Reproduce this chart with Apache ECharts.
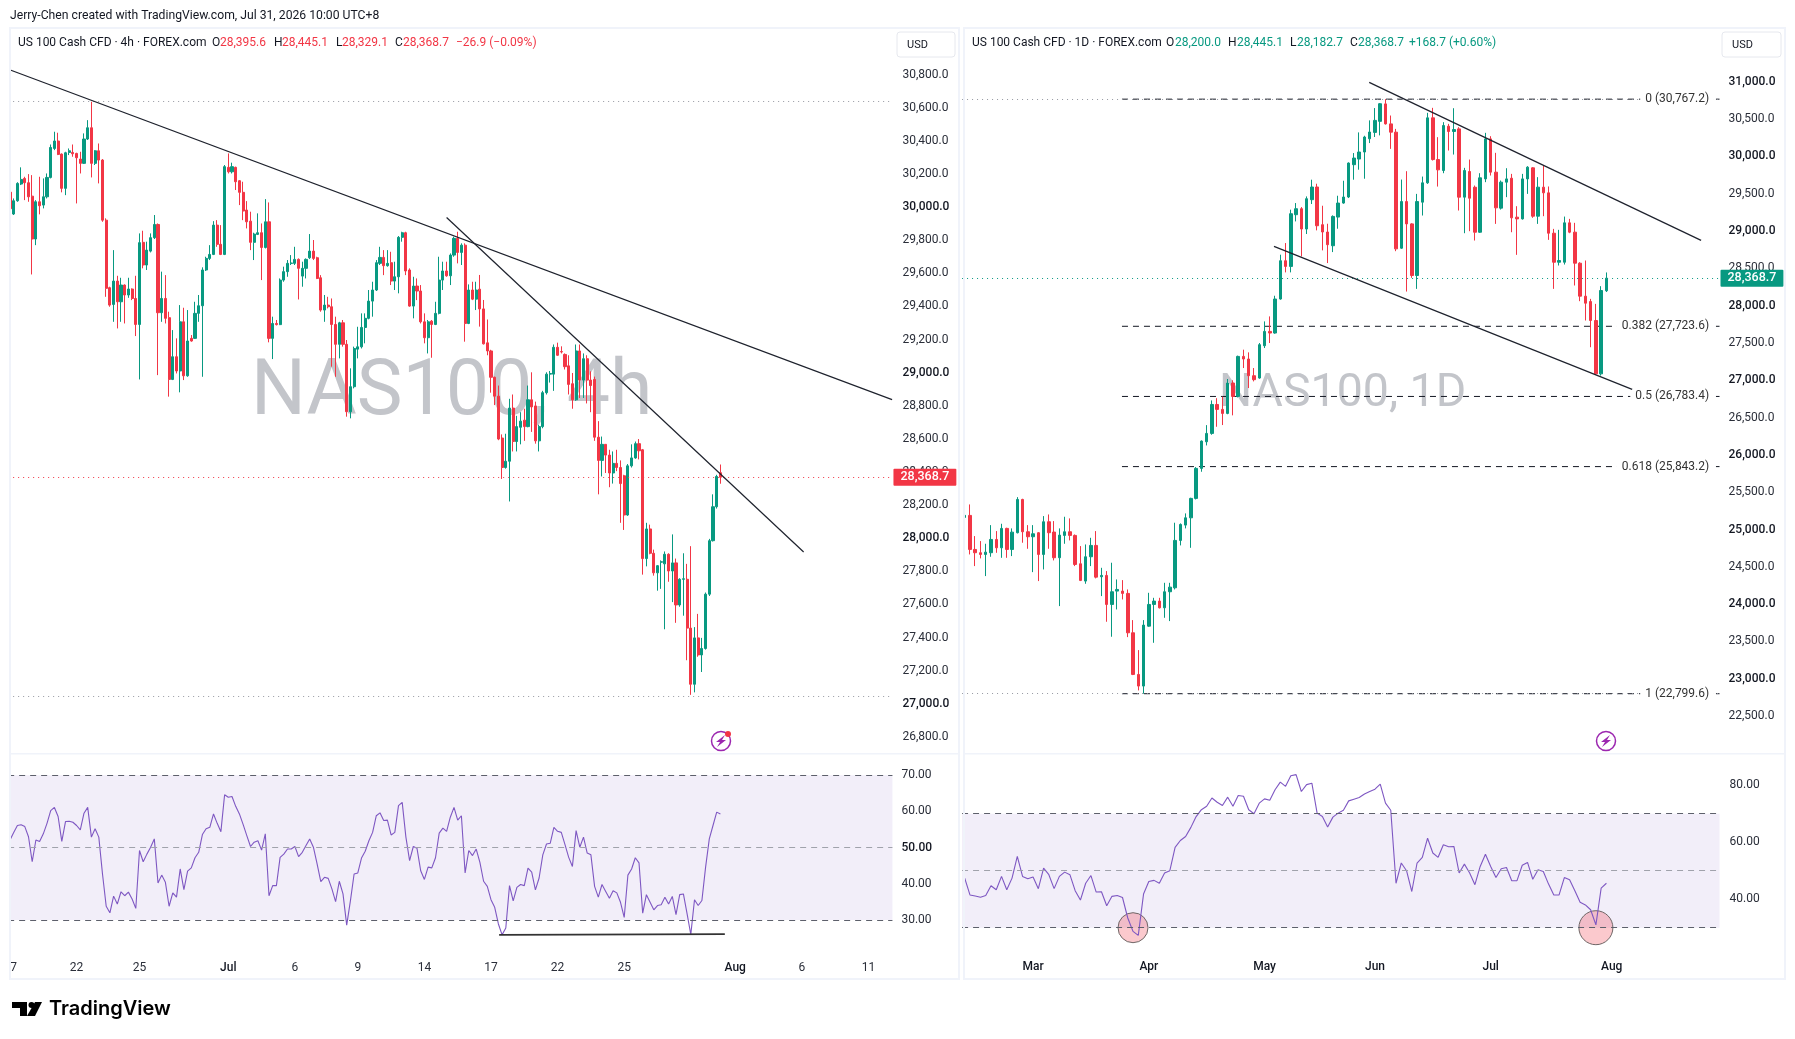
<!DOCTYPE html>
<html>
<head>
<meta charset="utf-8">
<title>NAS100</title>
<script src="https://cdn.jsdelivr.net/npm/echarts@6/dist/echarts.min.js"></script>
<style>html,body{margin:0;padding:0;background:#fff}#c{width:1795px;height:1039px}</style>
</head>
<body>
<div id="c"></div>
<script>
// ---- 4h candles, rows are open, close, high, low
const left4hBars = [
[30090,29990,30160,29950],[29958,30038,30052,29952],[30038,30143,30150,30032],[30139,30167,30240,30133],[30173,30147,30183,30042],
[30147,30062,30199,30032],[30066,29807,30193,29593],[29807,30032,30042,29770],[30032,30008,30183,29956],[30012,30062,30173,29992],
[30062,30179,30203,30052],[30179,30360,30378,30173],[30354,30399,30455,30344],[30399,30318,30449,30314],[30320,30113,30324,30089],
[30113,30328,30334,30072],[30330,30340,30354,30314],[30330,30322,30378,30304],[30324,30298,30328,30022],[30290,30264,30334,30203],
[30264,30411,30445,30260],[30411,30479,30525,30405],[30479,30264,30636,30179],[30264,30340,30344,30254],[30340,30284,30384,30143],
[30284,29921,30290,29911],[29921,29509,29932,29458],[29513,29408,29519,29398],[29412,29553,29740,29307],[29553,29428,29585,29267],
[29428,29529,29573,29307],[29529,29469,29533,29297],[29469,29505,29573,29452],[29505,29448,29509,29438],[29448,29291,29585,29221],
[29291,29785,29841,28959],[29787,29650,29857,29630],[29650,29740,29791,29620],[29734,29815,29841,29726],[29815,29895,29952,29807],
[29895,29362,29901,28985],[29362,29448,29610,29307],[29448,29328,29589,29297],[29332,28959,29368,28855],[28959,29096,29257,28955],
[29096,29010,29207,28995],[29010,29307,29408,28881],[29307,28981,29392,28955],[28981,29191,29378,28975],[29207,29191,29227,29187],
[29207,29358,29428,29203],[29358,29404,29469,29307],[29404,29620,29636,28975],[29620,29690,29700,29614],[29690,29714,29770,29680],
[29714,29891,29915,29710],[29891,29775,29921,29760],[29775,29714,29891,29710],[29714,30244,30254,29710],[30240,30213,30324,30203],
[30213,30244,30268,30203],[30240,30153,30244,30103],[30159,30089,30163,30012],[30089,29976,30153,29921],[29982,29911,30036,29871],
[29915,29787,29972,29740],[29787,29837,29845,29680],[29835,29845,29962,29831],[29845,29756,29901,29559],[29756,29911,30048,29750],
[29911,29207,30028,29183],[29207,29297,29338,29082],[29297,29290,29318,29285],[29290,29559,29569,29287],[29559,29610,29640,29549],
[29610,29660,29680,29579],[29660,29662,29710,29650],[29660,29684,29760,29650],[29684,29630,29690,29442],[29583,29630,29670,29519],
[29630,29684,29690,29569],[29694,29734,29837,29686],[29734,29690,29801,29680],[29694,29569,29700,29565],[29573,29378,29589,29368],
[29378,29408,29469,29307],[29408,29398,29458,29388],[29398,29291,29448,29036],[29291,29171,29338,28975],[29171,29301,29307,29086],
[29301,29171,29318,29157],[29171,28764,29197,28734],[28764,28915,29026,28724],[28915,29146,29157,28905],[29142,29156,29277,29086],
[29156,29273,29358,29146],[29273,29328,29358,29177],[29328,29432,29499,29322],[29432,29499,29549,29338],[29499,29664,29680,29493],
[29660,29696,29760,29650],[29696,29646,29740,29589],[29646,29660,29740,29640],[29664,29553,29730,29529],[29553,29579,29670,29499],
[29579,29817,29825,29479],[29817,29845,29851,29791],[29845,29614,29851,29589],[29620,29402,29630,29398],[29402,29523,29579,29328],
[29523,29493,29569,29438],[29493,29307,29529,29297],[29307,29211,29358,29177],[29211,29307,29318,29116],[29311,29291,29318,29090],
[29291,29358,29428,29287],[29358,29559,29700,29352],[29559,29614,29670,29499],[29614,29585,29670,29579],[29585,29710,29720,29529],
[29710,29811,29821,29700],[29811,29726,29851,29660],[29726,29770,29781,29650],[29770,29297,29781,29187],[29297,29499,29533,29293],
[29499,29444,29549,29438],[29444,29499,29549,29378],[29504,29385,29590,29278],[29385,29174,29439,29170],[29180,29131,29321,29105],
[29131,28972,29138,28879],[28972,28858,28976,28804],[28858,28599,28922,28592],[28605,28427,28627,28358],[28427,28465,28631,28420],
[28465,28786,28842,28222],[28786,28584,28868,28524],[28584,28674,28739,28524],[28670,28707,28761,28567],[28713,28674,28782,28588],
[28674,28836,28922,28670],[28836,28793,29002,28642],[28799,28588,28825,28571],[28588,28674,28685,28524],[28674,28879,28890,28664],
[28879,28991,29002,28868],[28991,28995,29010,28940],[28991,29153,29170,28890],[29153,29105,29181,29101],[29127,29125,29159,29116],
[29110,29036,29116,29019],[29041,28929,29105,28868],[28933,28836,28998,28782],[28836,29131,29170,28830],[29131,28955,29170,28847],
[28955,29084,29116,28847],[29084,28955,29105,28814],[28955,28922,29008,28761],[28959,28610,28976,28588],[28610,28470,28707,28265],
[28470,28567,28614,28373],[28567,28502,28567,28394],[28502,28394,28534,28308],[28394,28452,28524,28330],[28452,28427,28534,28405],
[28427,28330,28470,28093],[28377,28140,28383,28050],[28140,28437,28448,28135],[28437,28485,28567,28427],[28485,28571,28584,28480],
[28571,28528,28599,28476],[28534,27877,28539,27780],[27877,28056,28093,27830],[28056,27909,28082,27903],[27909,27791,27931,27774],
[27791,27834,27838,27683],[27855,27858,27866,27694],[27845,27903,27920,27450],[27903,27802,27909,27737],[27802,27851,28023,27614],
[27851,27597,27877,27489],[27597,27752,27758,27586],[27752,27755,27909,27532],[27752,27457,27845,27263],[27457,27118,27952,27054],
[27118,27398,27463,27069],[27398,27295,27543,27284],[27295,27334,27398,27192],[27334,27662,27672,27327],[27662,27985,27996,27651],
[27985,28190,28265,27980],[28190,28373,28383,28179],[28395.6,28368.7,28445.1,28329.1]
];
// ---- daily candles, rows are open, close, high, low
const right1dBars = [
[25162,25190,25381,25001],[25189,24733,25336,24666],[24733,24689,24912,24510],[24689,24666,24845,24613],[24666,24697,24809,24376],
[24689,24867,25059,24635],[24867,24755,24979,24688],[24755,25015,25077,24621],[25015,24733,25024,24621],[24733,24965,25015,24644],
[24957,25403,25434,24948],[25403,24970,25412,24823],[24970,24903,25059,24742],[24903,24943,25059,24429],[24957,24666,24966,24309],
[24666,25104,25180,24465],[25104,24957,25202,24742],[24966,24622,25113,24586],[24622,24925,25015,23974],[24921,24970,25171,24809],
[24970,24921,25149,24854],[24921,24532,24934,24510],[24541,24318,24778,24309],[24309,24635,24800,24273],[24635,24787,24889,24510],
[24787,24362,24979,24345],[24367,24385,24487,24108],[24385,23996,24443,23764],[23996,24166,24555,23563],[24175,24197,24331,23929],
[24175,24144,24322,24063],[24144,23616,24197,23558],[23616,23058,23786,23049],[23058,22902,23384,22844],[22902,23719,23786,22799.6],
[23705,23996,24152,23697],[23996,24041,24085,23482],[24041,23951,24085,23942],[23951,24166,24286,23817],[24166,24228,24286,23773],
[24219,24854,25091,24197],[24854,25068,25082,24787],[25059,25157,25216,25015],[25157,25417,25426,24755],[25417,25819,25837,25403],
[25819,26185,26194,25774],[26176,26288,26399,26127],[26288,26676,26730,26270],[26676,26610,26760,26377],[26610,26556,26780,26400],
[26556,26963,27017,26545],[26963,26784,27000,26530],[26784,27320,27330,26770],[27320,27285,27410,27164],[27285,27061,27374,26896],
[27061,27008,27164,26985],[27030,27477,27499,27021],[27463,27655,27789,27432],[27655,27633,27856,27499],[27633,28089,28133,27624],
[28089,28602,28683,28080],[28602,28526,28839,28446],[28526,29232,29286,28446],[29219,29299,29375,29129],[29299,29027,29321,28660],
[29027,29433,29464,28960],[29420,29590,29688,29362],[29590,29071,29634,29009],[29085,28987,29339,28741],[28987,28817,29098,28571],
[28803,29196,29210,28718],[29187,29375,29473,29031],[29375,29456,29674,29366],[29456,29911,29920,29442],[29889,29978,30045,29688],
[29965,30059,30322,29822],[30059,30260,30277,29701],[30237,30327,30483,30179],[30322,30483,30648,30260],[30470,30706,30715,30282],
[30704,30436,30767.2,30427],[30436,30325,30548,30101],[30325,28761,30369,28730],[28770,29395,29690,28761],[29395,29096,29802,28189],
[29096,28404,29105,28373],[28404,29395,29498,28225],[29387,29646,29730,29208],[29646,30517,30584,29632],[30517,29958,30651,29945],
[29958,29820,30258,29596],[29811,30414,30459,29775],[30405,30334,30436,30079],[30334,30360,30646,30025],[30369,29454,30392,29275],
[29454,29811,29847,28971],[29798,29440,29958,28998],[29587,28984,29610,28873],[28984,29713,29775,28975],[29699,30235,30316,29655],
[30235,29789,30271,29744],[29789,29311,30048,29096],[29307,29655,29677,29288],[29655,29699,29842,29454],[29708,29177,29766,28984],
[29186,29163,29333,28681],[29163,29699,29766,29154],[29699,29856,29869,29498],[29847,29199,29856,29177],[29199,29588,29722,29096],
[29588,29512,29878,29199],[29512,28971,29597,28882],[28971,28582,29029,28225],[28582,28605,29016,28538],[28582,29110,29194,28551],
[29110,28985,29163,28971],[28985,28569,29110,28270],[28569,28127,28582,28060],[28127,28033,28605,27801],[28055,27801,28091,27443],
[27801,27086,28024,27072],[27086,28203,28261,27063],[28200,28368.7,28445.1,28182.7]
];
const leftRsi = [
52.1,54.2,56.1,56.3,55.8,53,46.1,52.1,51.7,53.8,56.7,60.2,61.1,58.6,51.7,57.2,57.3,57,56.1,54.9,59.5,61.1,52.9,55.2,52.9,42.7,33.8,32,36.6,34.4,
37.8,36.7,37.7,35.8,33.2,49.2,46.1,48.2,50.1,52.4,40.2,42.4,40.4,33.8,37.5,36.3,44.1,38.4,43.5,44.4,47.2,48.7,53.6,55.2,55.6,59.3,56.7,54.4,64.6,63.9,
64.1,61.4,59.3,56.4,53.3,50.3,51.5,51.9,49.3,53.8,36.7,39.5,39.5,47.3,48.2,49.6,49.6,50.3,47.5,48.7,50.6,52.4,50.1,45.5,40.6,41.8,41.5,38.6,35.1,40.7,
37.2,28.6,35.3,42.7,43,47.1,49,51.9,54.2,58.8,59.6,57.5,57.6,53.5,54.2,61.6,62.5,52.9,46.4,50.3,49.8,43.6,41.2,44.6,44.4,47.2,54,55.4,54.5,58.4,
61.1,57.6,58.8,43,49.2,47.8,49.6,45.9,40.7,39.3,35.6,33.5,28.9,25.9,27.8,39.5,35.3,39,39.8,39.5,44.3,43.2,38.3,41.6,48,51,51.2,55.6,54.5,54.2,
50.8,47.3,44.8,54.7,50.1,52.9,48.5,48,39.3,36.3,39.8,37.9,36,38.1,37.5,34.9,30.7,42.4,44.1,47.2,45.8,31.9,37,34.9,32.8,34,34.2,36.3,34.4,36.5,
31.5,37,37.2,31.7,26,35.6,34,35.4,44.6,52.4,56.1,59.8,59.3
];
const rightRsi = [
47.4,41.5,41.1,40.7,41.3,44.7,43.3,48,43.3,47.4,55,48,47.2,47.8,43.7,50.9,48.6,43.7,48,49.5,48.6,43,39.7,45.6,48.3,42.5,42.6,37.7,41,41.3,
40.6,33.4,28.7,27.3,41.8,46.2,46.6,45.6,49.2,50,58.2,60.6,62,65.2,69,71.4,72.6,75.5,74,72.9,75.8,72.6,76.4,76.1,71.4,70,73.7,75.2,74.7,78.4,
81.1,79.6,83.3,83.7,77.8,80.2,80.7,70.2,69,65.3,68.8,70.2,71.2,74.5,75.1,75.7,76.9,77.8,78.6,80.4,73.7,71.2,45.6,52.7,50,42.7,52.7,54.7,61.4,56.2,
54.7,59.1,58.4,58.5,49.2,52.3,49.2,45.1,51.5,55.8,51.5,47.6,50.7,51.1,46.5,46.5,51.9,52.9,47,50.3,49.7,45.3,41.5,41.5,47.6,46.8,43,38.9,38,36.3,
31,43.9,45.6
];
// ---- tick labels and the bar slot each belongs to
const leftTickLabels = ['7','22','25','Jul','6','9','14','17','22','25','Aug','6','11'];
const leftTickSlots  = [1,18,35,59,77,94,112,130,148,166,196,214,232];
const rightTickLabels = ['Mar','Apr','May','Jun','Jul','Aug'];
const rightTickSlots  = [13,35,57,78,100,123];
const leftSlotCount = 239, rightSlotCount = 144;
// ---- drawn levels and lines: [slot, price] endpoints
const leftTrendA = [[0.08,30828],[238.4,28837]];
const leftTrendB = [[118,29937],[214.5,27917]];
const leftRsiFloor = [[132.2,25.9],[193.2,26.1]];
const rightTrendUpper = [[76.9,30992],[140,28875]];
const rightTrendLower = [[58.8,28794],[126.9,26878]];
const fibRatios = ['0','0.382','0.5','0.618','1'];
const fibPrices = [30767.2,27723.6,26783.4,25843.2,22799.6];
const rightRsiMarks = [[32,30,30],[120,30,34]];
const leftHigh = 30640, leftLow = 27047, lastPrice = 28368.7;
const rightHigh = 30767.2, rightLow = 22799.6;

const GREEN='#089981', RED='#F23645', INK='#131722', LABEL='#2a2e39', RSI='#7E57C2';
const FONT='Roboto, "Noto Sans", sans-serif';
const fmtPrice = v => v.toLocaleString('en-US',{minimumFractionDigits:1,maximumFractionDigits:1});
const toCandle = r => [r[0],r[1],r[3],r[2]];
const ticks = (n,slots,labels) => { const a=new Array(n).fill(''); slots.forEach((s,i)=>a[s]=labels[i]); return a; };

function xCat(g,cats,show){return {type:'category',gridIndex:g,data:cats,boundaryGap:true,axisLine:{show:false},axisTick:{show:false},splitLine:{show:false},
  axisLabel: show?{show:true,interval:0,margin:show,fontSize:12,fontFamily:FONT,color:LABEL,hideOverlap:false,
    formatter:v=>/^[A-Z]/.test(v)?'{m|'+v+'}':v, rich:{m:{fontSize:12,fontFamily:FONT,color:INK,fontWeight:500}}}:{show:false}};}
function xVal(g,n){return {type:'value',gridIndex:g,min:-0.5,max:n-0.5,show:false,splitLine:{show:false}};}
function yPrice(g,min,max,step,hide,margin){return {type:'value',gridIndex:g,position:'right',min,max,interval:step,scale:true,
  axisLine:{show:false},axisTick:{show:false},splitLine:{show:false},
  axisLabel:{margin,fontSize:12,fontFamily:FONT,color:LABEL,
    formatter:v=>{ if(hide(v))return ''; const s=fmtPrice(v); return v%1000===0?'{b|'+s+'}':s; },
    rich:{b:{fontSize:12,fontFamily:FONT,color:INK,fontWeight:500}}}};}
function yRsi(g,min,max,show,margin){return {type:'value',gridIndex:g,position:'right',min,max,interval:10,
  axisLine:{show:false},axisTick:{show:false},splitLine:{show:false},
  axisLabel:{margin,fontSize:12,fontFamily:FONT,color:LABEL,
    formatter:v=>show.includes(v)?(v===50?'{b|'+v.toFixed(2)+'}':v.toFixed(2)):'',
    rich:{b:{fontSize:12,fontFamily:FONT,color:INK,fontWeight:500}}}};}
function candles(name,x,y,bars,bw,lines){return {name,type:'candlestick',xAxisIndex:x,yAxisIndex:y,data:bars.map(toCandle),barWidth:bw,z:3,
  itemStyle:{color:GREEN,color0:RED,borderColor:GREEN,borderColor0:RED,borderWidth:1},
  markLine:{silent:true,symbol:'none',animation:false,label:{show:false},
    data:lines.map(l=>({yAxis:l[0],lineStyle:{color:l[1],type:[1,4],width:1}}))}};}
function rsiSeries(name,x,y,vals){return {name,type:'line',xAxisIndex:x,yAxisIndex:y,data:vals.map((v,i)=>[i,v]),showSymbol:false,z:4,clip:false,
  lineStyle:{color:RSI,width:1.1},
  markArea:{silent:true,itemStyle:{color:'rgba(126,87,194,0.1)'},data:[[{yAxis:70},{yAxis:30}]]},
  markLine:{silent:true,symbol:'none',animation:false,label:{show:false},data:[
    {yAxis:70,lineStyle:{color:'#5d606b',type:[6,5],width:1}},
    {yAxis:50,lineStyle:{color:'#a0a2ab',type:[6,5],width:1}},
    {yAxis:30,lineStyle:{color:'#5d606b',type:[6,5],width:1}}]}};}
function trend(x,y,pts,w,c){return {type:'line',xAxisIndex:x,yAxisIndex:y,data:pts,showSymbol:false,z:6,clip:false,lineStyle:{color:c||'#1e222d',width:w||1.2},silent:true};}
function tag(x,y,slot,price,color){return {type:'scatter',xAxisIndex:x,yAxisIndex:y,data:[[slot,price]],symbolSize:0,z:9,clip:false,silent:true,itemStyle:{opacity:1},
  label:{show:true,position:'right',distance:1,formatter:()=>fmtPrice(price),color:'#fff',backgroundColor:color,fontSize:12.5,fontFamily:FONT,fontWeight:500,padding:[2,7,2,7],borderRadius:1}};}

const fibSeries = fibPrices.map(p=>({type:'line',xAxisIndex:5,yAxisIndex:2,data:[[29.9,p],[143.5,p]],showSymbol:false,z:2,silent:true,
  lineStyle:{color:INK,type:[6,5],width:1}}));
const fibLabelSeries = {type:'scatter',xAxisIndex:5,yAxisIndex:2,symbolSize:0,z:5,silent:true,clip:false,itemStyle:{opacity:1},
  data:fibPrices.map((p,i)=>({value:[142.3,p],label:{formatter:fibRatios[i]+' ('+fmtPrice(p)+')'}})),
  label:{show:true,position:'left',distance:0,color:'#333',fontSize:12,fontFamily:FONT,backgroundColor:'#fff',padding:[1,4,1,5]}};
const markSeries = {type:'scatter',xAxisIndex:7,yAxisIndex:3,z:3,silent:true,clip:false,data:rightRsiMarks.map(m=>[m[0],m[1]]),
  symbol:'circle',symbolSize:(v,p)=>rightRsiMarks[p.dataIndex][2],itemStyle:{opacity:1,color:'rgba(242,54,69,0.27)',borderColor:'#6f6666',borderWidth:1}};

// ---- page furniture
const T=(text,x,y,color,size,extra)=>({type:'text',silent:true,z:60,style:Object.assign({text,x,y,fill:color||INK,fontSize:size||12,fontFamily:FONT,textVerticalAlign:'middle'},extra||{})});
const R=(x,y,w,h,fill)=>({type:'rect',silent:true,z:50,shape:{x,y,width:w,height:h},style:{fill:fill||'#f0f3fa'}});
function alertIcon(cx,cy,dot){
  const g=[{type:'circle',silent:true,z:60,shape:{cx,cy,r:9.5},style:{fill:'#fff',stroke:'#9c27b0',lineWidth:1.5}},
    {type:'polygon',silent:true,z:61,shape:{points:[[cx+4,cy-6],[cx-5,cy+1],[cx-1,cy+1],[cx-4,cy+6],[cx+5,cy-1],[cx+1,cy-1]]},style:{fill:'#9c27b0'}}];
  if(dot)g.push({type:'circle',silent:true,z:62,shape:{cx:cx+7,cy:cy-7,r:3},style:{fill:RED}});
  return g;
}
const usdBtn=(x,w)=>[{type:'rect',silent:true,z:60,shape:{x,y:32,width:w,height:25,r:3},style:{fill:'#fff',stroke:'#e6e8ee',lineWidth:1}},T('USD',x+10,45,INK,11)];
const legend=(items,color)=>items.map(it=>T(it[0],it[1],42.5,it[2]?color:INK,12));
const W=(text,x,y,size)=>({type:'text',silent:true,z:0,style:{text,x,y,fill:'#c3c5ca',fontSize:size,fontFamily:'Roboto, sans-serif',textVerticalAlign:'middle'}});

const graphic=[
  W('NAS100, 4h',251,395,77),W('NAS100, 1D',1219,394.5,46.5),
  R(0,27,10,952,'#fff'),
  R(9,27,951,2),R(9,27,2,952),R(9,978,951,2),R(958,27,2,952),R(9,753,951,1.5),
  R(963,27,823,2),R(963,27,2,952),R(963,978,823,2),R(1784,27,2,952),R(963,753,823,1.5),
  T('Jerry-Chen created with TradingView.com, Jul 31, 2026 10:00 UTC+8',10,16,INK,12.2),
  ...legend([['US 100 Cash CFD · 4h · FOREX.com',18,0],['O',212,0],['28,395.6',220,1],['H',274,0],['28,445.1',282,1],['L',336,0],['28,329.1',342,1],['C',395,0],['28,368.7',403,1],['−26.9 (−0.09%)',456,1]],RED),
  ...legend([['US 100 Cash CFD · 1D · FOREX.com',972,0],['O',1166,0],['28,200.0',1175,1],['H',1228,0],['28,445.1',1237,1],['L',1290,0],['28,182.7',1297,1],['C',1350,0],['28,368.7',1358,1],['+168.7 (+0.60%)',1409,1]],GREEN),
  ...usdBtn(897,58),...usdBtn(1722,59),
  ...alertIcon(721,741,true),...alertIcon(1606,741,false),
  {type:'polygon',silent:true,z:60,shape:{points:[[12,1002],[27,1002],[27,1016],[20,1016],[20,1008],[12,1008]]},style:{fill:'#000'}},
  {type:'circle',silent:true,z:60,shape:{cx:31.5,cy:1005,r:3},style:{fill:'#000'}},
  {type:'polygon',silent:true,z:60,shape:{points:[[35,1002],[42,1002],[35,1016],[27,1016]]},style:{fill:'#000'}},
  T('TradingView',49,1008.5,'#000',20,{fontFamily:'Inter, Roboto, sans-serif',fontWeight:600})
];

const GL=8.15, BL=3.7, GR=962.07, BR=5.26;
const option={
  animation:false,backgroundColor:'#fff',
  graphic:{elements:graphic},
  grid:[
    {left:GL,width:leftSlotCount*BL,top:41.5,height:4200*0.16557},
    {left:GL,width:leftSlotCount*BL,top:739,height:60*3.62},
    {left:GR,width:rightSlotCount*BR,top:81.8,height:8500*0.07462},
    {left:GR,width:rightSlotCount*BR,top:756.7,height:70*2.85}
  ],
  xAxis:[
    xCat(0,ticks(leftSlotCount,[],[]),0),xVal(0,leftSlotCount),
    xCat(1,ticks(leftSlotCount,leftTickSlots,leftTickLabels),5.6),xVal(1,leftSlotCount),
    xCat(2,ticks(rightSlotCount,[],[]),0),xVal(2,rightSlotCount),
    xCat(3,ticks(rightSlotCount,rightTickSlots,rightTickLabels),5),xVal(3,rightSlotCount)
  ],
  yAxis:[
    yPrice(0,26800,31000,200,v=>v>=31000,10),
    yRsi(1,20,80,[30,40,50,60,70],9),
    yPrice(2,22500,31000,500,v=>false,9),
    yRsi(3,20,90,[40,60,80],10)
  ],
  series:[
    candles('NAS100 4h',0,0,left4hBars,2.6,[[leftHigh,'#9598a1'],[leftLow,'#9598a1'],[lastPrice,RED]]),
    trend(1,0,leftTrendA),trend(1,0,leftTrendB),
    tag(1,0,238.5,lastPrice,RED),
    rsiSeries('RSI 4h',3,1,leftRsi),
    trend(3,1,leftRsiFloor,1.6,'#333'),
    ...fibSeries,
    candles('NAS100 1D',4,2,right1dBars,3,[[rightHigh,'#9598a1'],[rightLow,'#9598a1'],[lastPrice,GREEN]]),
    trend(5,2,rightTrendUpper),trend(5,2,rightTrendLower),
    fibLabelSeries,
    tag(5,2,143.5,lastPrice,GREEN),
    rsiSeries('RSI 1D',7,3,rightRsi),
    markSeries
  ]
};
const chart=echarts.init(document.getElementById('c'),null,{width:1795,height:1039});
chart.setOption(option);
</script>
</body>
</html>
